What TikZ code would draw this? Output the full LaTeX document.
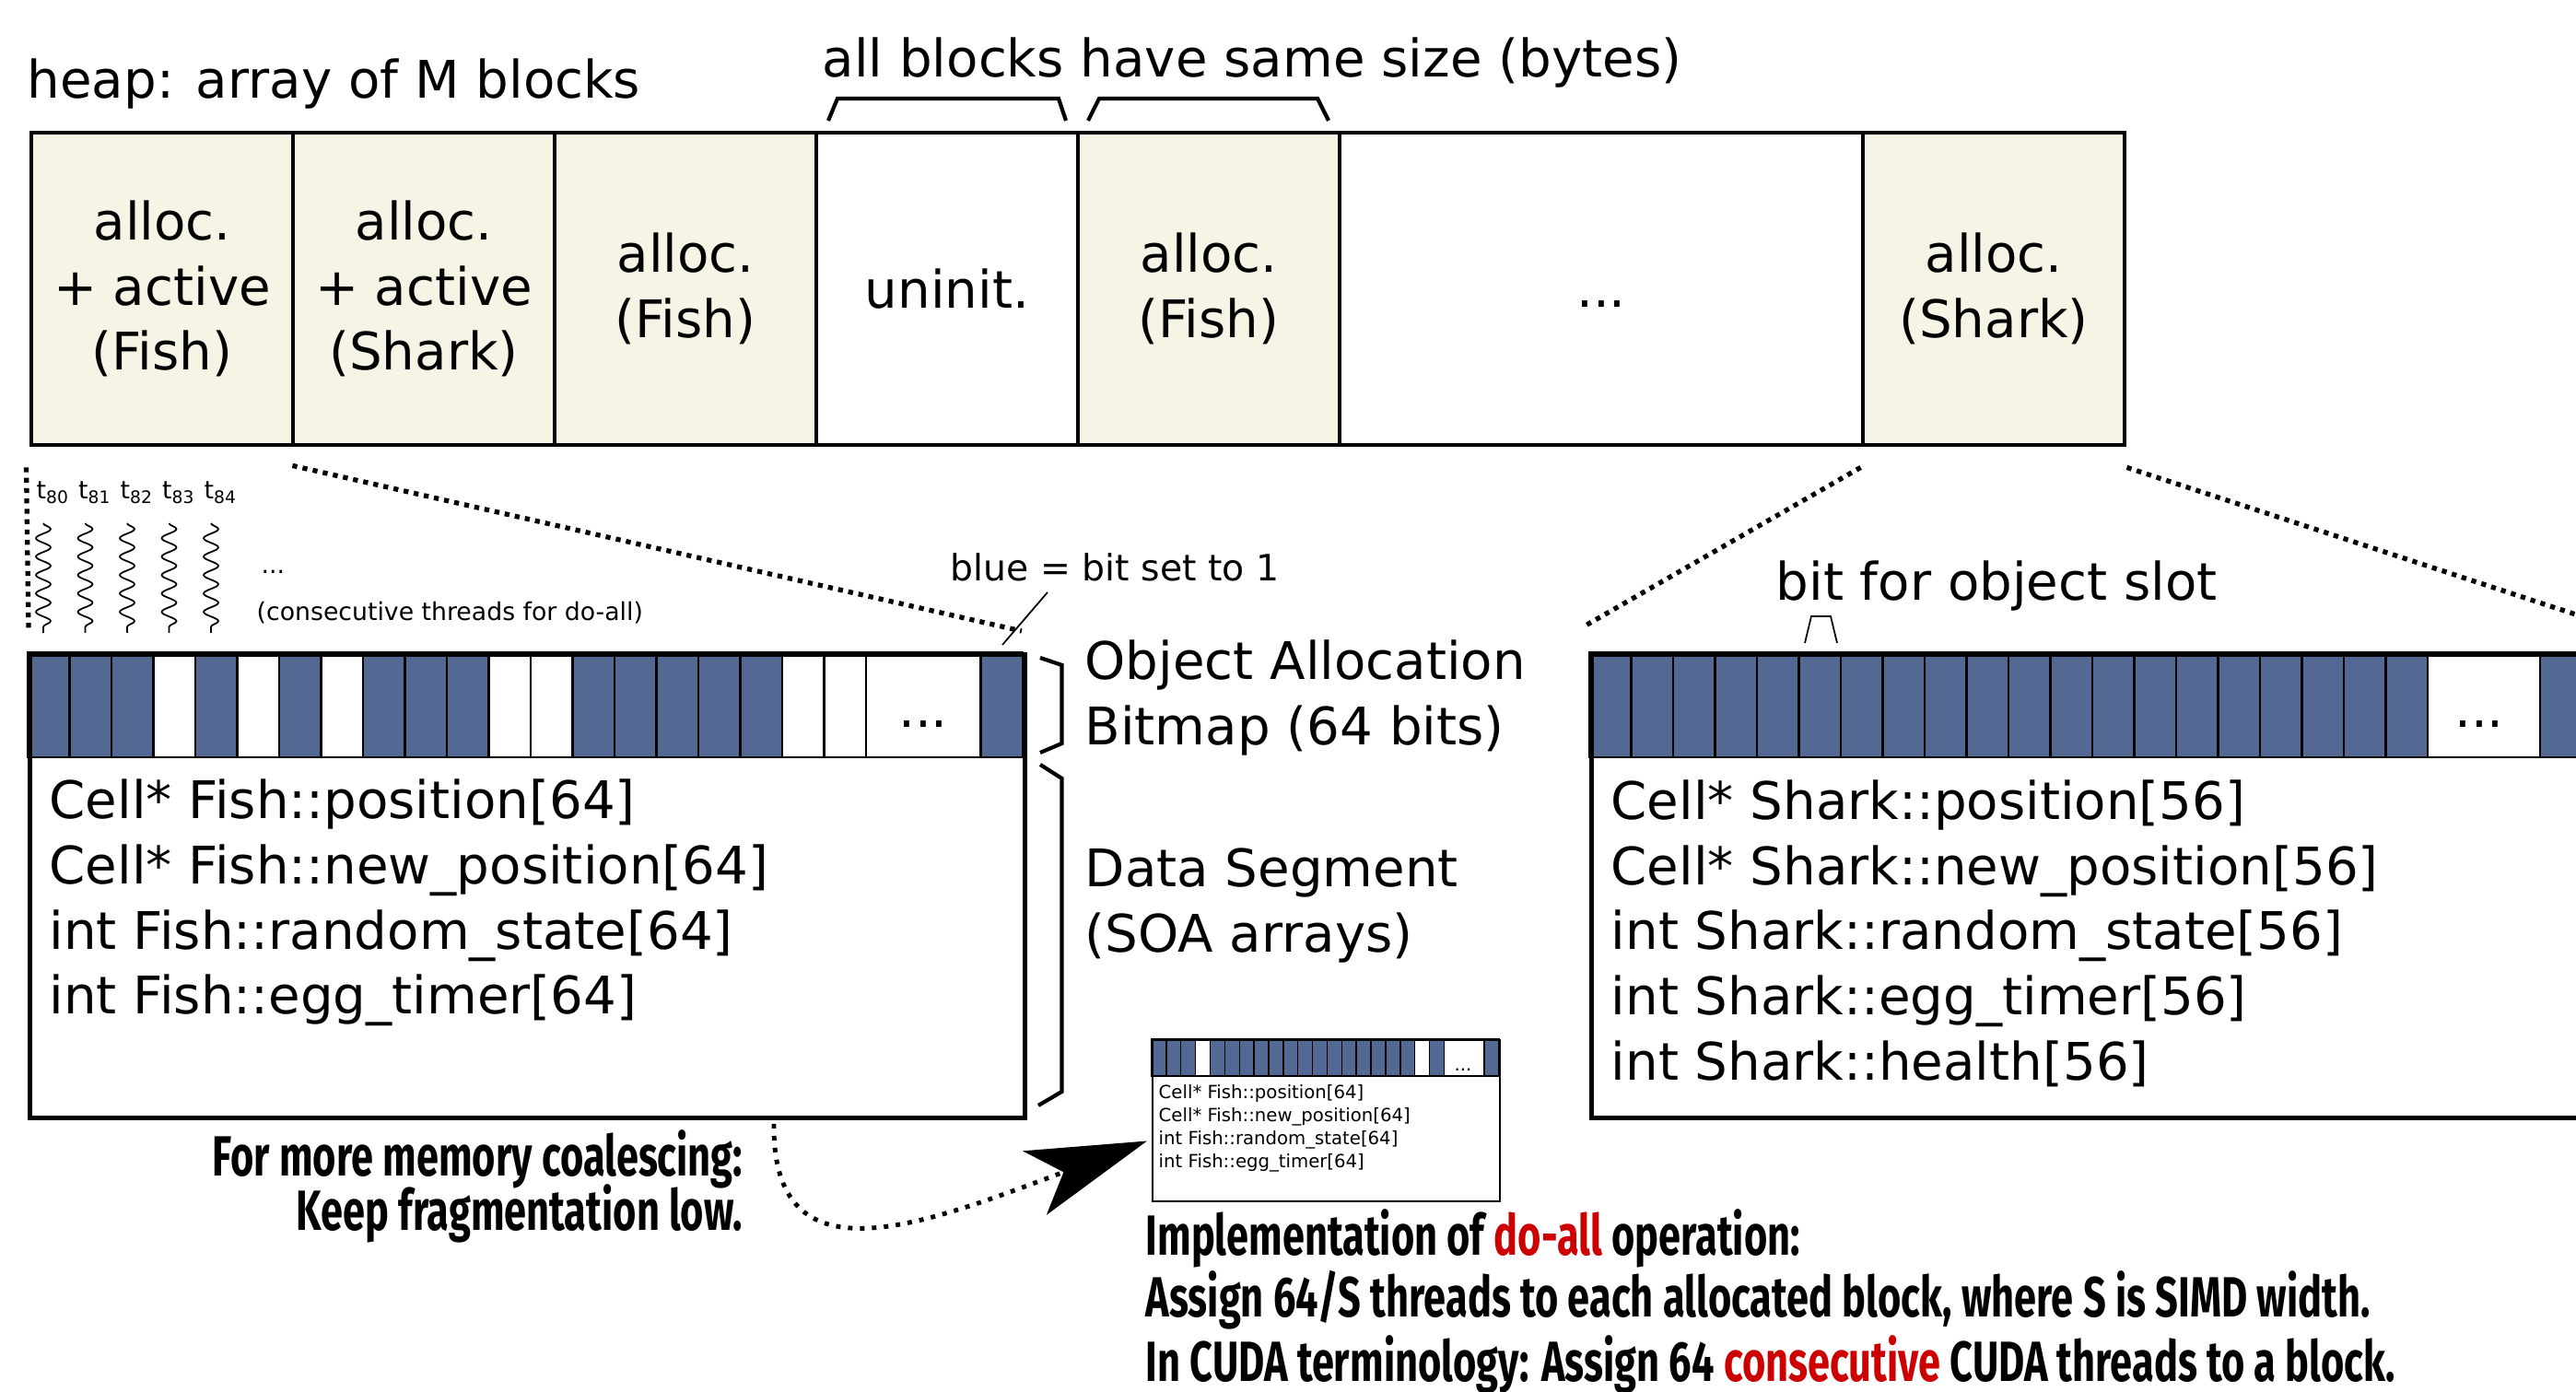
\documentclass[tikz,border=0pt]{standalone}
\usepackage{fontspec}
\setmainfont{DejaVu Sans}
\newfontfamily\notefont[FakeStretch=0.705]{Fira Sans}
\usetikzlibrary{arrows.meta, decorations.pathmorphing}

\definecolor{bitblue}{HTML}{536892}
\definecolor{alloccream}{HTML}{F5F4E5}
\definecolor{doallred}{HTML}{CC0000}

\tikzset{
  heapblk/.style={draw, line width=1.4pt, minimum width=2.84cm, minimum height=3.39cm,
    align=center, inner sep=0pt, font=\fontsize{16}{20}\selectfont},
  bitcell/.style={draw, line width=0.8pt},
  minicell/.style={draw, line width=0.4pt},
  zoomline/.style={line width=1.5pt, dash pattern=on 1.5pt off 1.7pt},
  brk/.style={line width=1.2pt},
  field/.style={anchor=base west, inner sep=0pt, font=\fontsize{16}{20}\selectfont},
  minifield/.style={anchor=base west, inner sep=0pt, font=\fontsize{5.6}{6}\selectfont},
  smalltext/.style={anchor=base west, inner sep=0pt, font=\fontsize{7.6}{9}\selectfont},
  note/.style={inner sep=0pt, font=\notefont\bfseries\fontsize{17.5}{19}\selectfont},
  thread/.style={line width=0.5pt, decorate,
    decoration={snake, segment length=0.2cm, amplitude=0.08cm}},
}

\begin{document}
\begin{tikzpicture}
\clip (0,0) rectangle (27.96,15.11);

%%%%%%%%%%%%%%%%%%%%%%%%%%%%%%%%%%%%%%
% heap of M blocks
\node[field] (heaplbl) at (0.29,14.04) {heap: array of M blocks};
\node[field] (sizelbl) at (8.92,14.27) {all blocks have same size (bytes)};

\node[heapblk, fill=alloccream] (blk1) at (1.76,11.975) {alloc.\\+ active\\(Fish)};
\node[heapblk, fill=alloccream] (blk2) at (4.60,11.975) {alloc.\\+ active\\(Shark)};
\node[heapblk, fill=alloccream] (blk3) at (7.44,11.975) {alloc.\\(Fish)};
\node[heapblk] (blk4) at (10.28,11.975) {uninit.};
\node[heapblk, fill=alloccream] (blk5) at (13.12,11.975) {alloc.\\(Fish)};
\node[heapblk, minimum width=5.68cm] (blk6) at (17.38,11.975) {\vphantom{t}...};
\node[heapblk, fill=alloccream] (blk7) at (21.64,11.975) {alloc.\\(Shark)};

\draw[brk] (8.99,13.80)--(9.09,14.04)--(11.49,14.04)--(11.57,13.80);
\draw[brk] (11.81,13.80)--(11.93,14.04)--(14.30,14.04)--(14.42,13.80);

%%%%%%%%%%%%%%%%%%%%%%%%%%%%%%%%%%%%%%
% fish block
\foreach \i in {0,...,19}
  \draw[bitcell] ({0.30+0.455*\i},6.89) rectangle ++(0.455,1.14);
\foreach \i in {0,1,2,4,6,8,9,10,13,14,15,16,17}
  \draw[bitcell, fill=bitblue] ({0.30+0.455*\i},6.89) rectangle ++(0.455,1.14);
\draw[bitcell] (9.40,6.89) rectangle (10.645,8.03);
\draw[bitcell, fill=bitblue] (10.645,6.89) rectangle (11.10,8.03);
\node[field, anchor=base] (fishdots) at (10.02,7.21) {...};

\node[draw, line width=1.4pt, minimum width=10.80cm, minimum height=5.03cm,
  anchor=north west, inner sep=0pt] (fish) at (0.30,8.03) {};

\node[field] (fpos) at (0.53,6.22) {Cell* Fish::position[64]};
\node[field] (fnew) at (0.53,5.51) {Cell* Fish::new\_position[64]};
\node[field] (frnd) at (0.53,4.80) {int Fish::random\_state[64]};
\node[field] (fegg) at (0.53,4.10) {int Fish::egg\_timer[64]};

\draw[brk] (11.29,7.97)--(11.525,7.89)--(11.525,7.04)--(11.29,6.94);
\draw[brk] (11.29,6.81)--(11.525,6.66)--(11.525,3.26)--(11.27,3.11);

\node[field] (oalbl) at (11.77,7.73) {Object Allocation};
\node[field] (bmlbl) at (11.77,7.02) {Bitmap (64 bits)};
\node[field] (dslbl) at (11.77,5.48) {Data Segment};
\node[field] (soalbl) at (11.77,4.77) {(SOA arrays)};

\node[field, font=\fontsize{11.2}{13}\selectfont] (bluenote) at (10.31,8.80) {blue = bit set to 1};
\coordinate (bluetick) at (11.37,8.68);
\coordinate (lastbit) at (10.88,8.11);
\draw[line width=0.5pt] (bluetick) -- (lastbit);

% threads
\foreach \n [count=\i from 0] in {80,...,84}
  \node[smalltext] (t\n) at ({0.39+0.455*\i},9.69) {t\textsubscript{\n}};
\foreach \i in {0,...,4}
  \draw[thread] ({0.47+0.455*\i},9.43) -- ++(0,-1.19);
\node[smalltext] (tdots) at (2.83,8.88) {...};
\node[smalltext] (tnote) at (2.78,8.37) {(consecutive threads for do-all)};

\draw[zoomline] ([shift={(-0.03,-0.22)}]blk1.south west) -- ([shift={(0.01,0.26)}]fish.north west);
\draw[zoomline] ([shift={(-0.03,-0.20)}]blk1.south east) -- ([shift={(-0.06,0.23)}]fish.north east);

%%%%%%%%%%%%%%%%%%%%%%%%%%%%%%%%%%%%%%
% shark block
\foreach \i in {0,...,19}
  \draw[bitcell, fill=bitblue] ({17.25+0.455*\i},6.89) rectangle ++(0.455,1.14);
\draw[bitcell] (26.35,6.89) rectangle (27.57,8.03);
\draw[bitcell, fill=bitblue] (27.57,6.89) rectangle (28.03,8.03);
\node[field, anchor=base] (sharkdots) at (26.91,7.21) {...};

\node[draw, line width=1.4pt, minimum width=11.40cm, minimum height=5.03cm,
  anchor=north west, inner sep=0pt] (shark) at (17.25,8.03) {};

\node[field] (spos) at (17.48,6.215) {Cell* Shark::position[56]};
\node[field] (snew) at (17.48,5.50) {Cell* Shark::new\_position[56]};
\node[field] (srnd) at (17.48,4.80) {int Shark::random\_state[56]};
\node[field] (segg) at (17.48,4.09) {int Shark::egg\_timer[56]};
\node[field] (shlt) at (17.48,3.38) {int Shark::health[56]};

\node[field] (slotlbl) at (19.27,8.59) {bit for object slot};
\draw[line width=0.5pt] (19.59,8.13)--(19.66,8.42)--(19.87,8.42)--(19.94,8.13);

\draw[zoomline] ([yshift=-0.22cm]blk7.south west) -- ([shift={(-0.04,0.29)}]shark.north west);
\draw[zoomline] ([yshift=-0.22cm]blk7.south east) -- (28.20,8.36);

%%%%%%%%%%%%%%%%%%%%%%%%%%%%%%%%%%%%%%
% small copy of fish block
\foreach \i in {0,...,19}
  \draw[minicell] ({12.50+0.1587*\i},3.43) rectangle ++(0.1587,0.40);
\foreach \i in {0,1,2,4,5,6,7,8,9,10,11,12,13,14,15,16,17,19}
  \draw[minicell, fill=bitblue] ({12.50+0.1587*\i},3.43) rectangle ++(0.1587,0.40);
\draw[minicell] (15.674,3.43) rectangle (16.11,3.83);
\draw[minicell, fill=bitblue] (16.11,3.43) rectangle (16.27,3.83);
\node[minifield, anchor=base] (thumbdots) at (15.88,3.48) {...};

\node[draw, line width=0.6pt, minimum width=3.77cm, minimum height=1.75cm,
  anchor=north west, inner sep=0pt] (thumb) at (12.50,3.83) {};

\node[minifield] (tpos) at (12.57,3.18) {Cell* Fish::position[64]};
\node[minifield] (tnew) at (12.57,2.93) {Cell* Fish::new\_position[64]};
\node[minifield] (trnd) at (12.57,2.68) {int Fish::random\_state[64]};
\node[minifield] (tegg) at (12.57,2.43) {int Fish::egg\_timer[64]};

\coordinate (coalesce) at (8.40,2.91);
\draw[line width=1.4pt, dash pattern=on 1.4pt off 2.3pt,
  -{Stealth[length=37pt, width=21pt, inset=9.5pt]}]
  (coalesce) .. controls (8.38,1.16) and (10.00,1.81) .. ([shift={(-0.05,-0.22)}]thumb.west);

%%%%%%%%%%%%%%%%%%%%%%%%%%%%%%%%%%%%%%
% notes
\node[note, anchor=base east] (note1) at (8.07,2.34) {For more memory coalescing:};
\node[note, anchor=base east] (note2) at (8.07,1.75) {Keep fragmentation low.};

\node[note, anchor=base west] (impl1) at (12.43,1.48) {Implementation of {\color{doallred}do-all} operation:};
\node[note, anchor=base west] (impl2) at (12.43,0.81) {Assign 64/S threads to each allocated block, where S is SIMD width.};
\node[note, anchor=base west] (impl3) at (12.43,0.11) {In CUDA terminology: Assign 64 {\color{doallred}consecutive} CUDA threads to a block.};

\end{tikzpicture}
\end{document}
